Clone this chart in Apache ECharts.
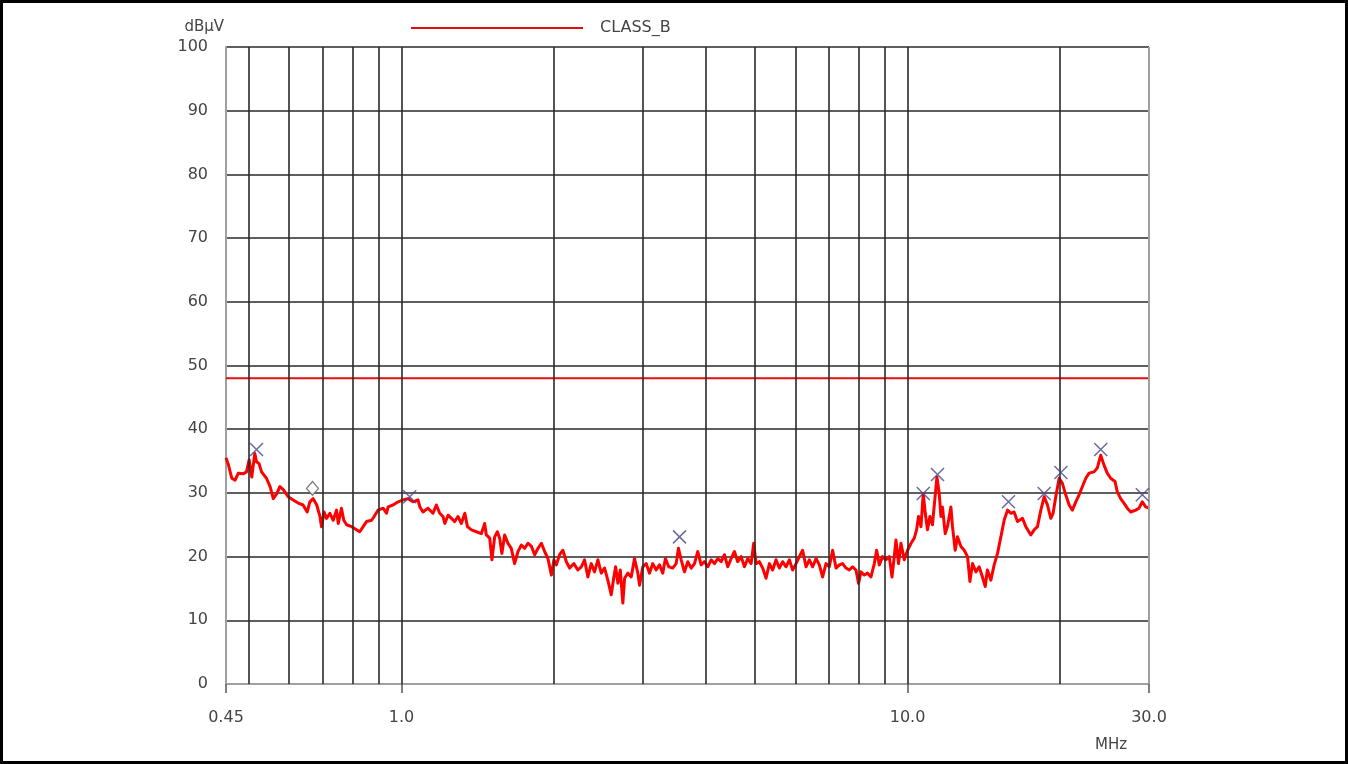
<!DOCTYPE html>
<html>
<head>
<meta charset="utf-8">
<style>
html,body{margin:0;padding:0;background:#fff;}
#c{width:1348px;height:764px;}
</style>
<script src="https://cdn.jsdelivr.net/npm/echarts@6/dist/echarts.min.js"></script>
</head>
<body>
<div id="c"></div>
<script>
// ---- data ----
const limitName = 'CLASS_B';
const limitFreq = [0.45, 30];
const limitLevel = [48, 48];

const traceFreq = [0.450,0.455,0.462,0.469,0.476,0.487,0.494,0.500,0.506,0.513,0.517,0.523,0.529,0.541,0.550,0.558,0.567,0.575,0.584,0.597,0.611,0.625,0.639,0.651,0.659,0.669,0.680,0.690,0.695,0.703,0.711,0.722,0.733,0.744,0.750,0.761,0.769,0.779,0.797,0.815,0.827,0.840,0.853,0.873,0.886,0.899,0.920,0.934,0.941,0.962,0.985,1.007,1.030,1.054,1.078,1.087,1.103,1.128,1.154,1.172,1.190,1.208,1.218,1.236,1.255,1.274,1.293,1.313,1.334,1.350,1.375,1.406,1.438,1.460,1.471,1.494,1.509,1.528,1.547,1.563,1.579,1.599,1.623,1.648,1.673,1.699,1.725,1.752,1.778,1.806,1.833,1.861,1.890,1.918,1.947,1.978,2.001,2.023,2.053,2.084,2.117,2.149,2.191,2.231,2.266,2.300,2.335,2.371,2.407,2.444,2.482,2.519,2.557,2.597,2.628,2.649,2.677,2.706,2.738,2.760,2.802,2.844,2.887,2.931,2.954,2.998,3.045,3.091,3.137,3.186,3.234,3.283,3.323,3.373,3.435,3.489,3.526,3.570,3.624,3.679,3.736,3.793,3.850,3.910,3.969,4.029,4.092,4.154,4.217,4.283,4.347,4.413,4.482,4.549,4.618,4.690,4.761,4.833,4.908,4.966,5.020,5.096,5.173,5.253,5.333,5.413,5.497,5.580,5.664,5.753,5.840,5.929,6.021,6.111,6.204,6.300,6.397,6.494,6.595,6.694,6.795,6.900,7.004,7.111,7.222,7.331,7.442,7.557,7.671,7.787,7.908,8.002,8.091,8.213,8.337,8.467,8.596,8.687,8.794,8.926,9.066,9.203,9.316,9.413,9.486,9.598,9.705,9.851,10.00,10.16,10.31,10.42,10.51,10.63,10.74,10.84,10.95,11.07,11.20,11.32,11.43,11.55,11.64,11.72,11.87,11.99,12.18,12.27,12.42,12.55,12.75,12.94,13.14,13.28,13.44,13.65,13.85,14.06,14.24,14.38,14.61,14.83,15.06,15.29,15.52,15.76,16.00,16.24,16.49,16.87,17.13,17.52,17.79,18.06,18.34,18.62,18.90,19.19,19.39,19.63,19.93,20.23,20.54,20.86,21.17,21.50,21.83,22.16,22.50,22.84,23.36,23.71,24.08,24.44,24.81,25.20,25.70,25.96,26.37,26.77,27.18,27.61,28.24,28.66,29.10,29.55,30.00];
const traceLevel = [35.5,34.4,32.3,32.0,33.1,33.0,33.3,35.2,32.5,36.2,34.9,34.6,33.3,32.3,31.0,29.1,29.9,31.0,30.5,29.4,28.9,28.4,28.1,27.0,28.6,29.1,28.1,26.3,24.7,27.0,26.0,26.8,25.7,27.3,25.2,27.6,25.7,25.0,24.7,24.2,23.9,24.7,25.5,25.7,26.5,27.3,27.6,26.8,27.8,28.1,28.6,28.9,29.1,28.6,28.9,27.8,27.0,27.6,26.8,28.1,26.8,26.3,25.2,26.5,26.0,25.5,26.3,25.2,26.8,24.7,24.2,23.9,23.6,25.2,23.4,22.9,19.5,23.1,23.9,22.9,20.5,23.4,22.1,21.3,18.9,20.8,21.8,21.3,22.1,21.6,20.3,21.3,22.1,20.8,19.7,17.1,19.5,18.7,20.3,21.0,19.2,18.2,18.9,17.9,18.4,19.5,16.8,18.9,17.6,19.5,17.4,18.2,16.3,14.0,16.8,18.4,15.8,17.9,12.7,16.6,17.4,16.8,19.7,17.4,15.5,18.4,18.9,17.4,18.9,17.9,18.7,17.4,19.7,18.4,18.2,18.9,21.3,19.5,17.6,19.2,18.2,18.9,20.8,18.7,19.2,18.4,19.5,18.9,19.7,19.2,20.3,18.4,19.7,20.8,19.2,20.0,18.4,19.7,18.9,22.1,18.9,19.2,18.2,16.6,18.9,17.9,19.5,18.2,19.2,18.4,19.5,17.9,18.9,20.0,21.0,18.4,19.5,18.4,19.7,18.7,16.8,18.9,18.4,21.0,18.2,18.7,18.9,18.2,17.9,18.4,17.9,15.8,17.6,17.1,17.4,16.8,18.9,21.0,18.7,20.0,19.5,20.0,16.8,20.0,22.6,18.9,22.1,19.5,21.0,22.1,22.9,24.2,26.3,24.7,29.9,26.8,24.2,26.3,25.0,28.9,32.5,29.9,26.3,27.8,23.6,24.7,27.8,24.7,21.0,23.1,21.6,21.0,20.0,16.1,18.9,17.6,18.4,16.8,15.3,17.9,16.3,18.7,20.5,23.1,25.7,27.3,26.8,27.0,25.5,26.0,24.7,23.4,24.2,24.7,27.3,29.4,28.1,26.0,26.8,29.4,32.3,31.5,29.7,28.1,27.3,28.6,29.7,31.0,32.3,33.1,33.3,33.9,35.9,34.4,33.1,32.3,31.8,30.2,29.1,28.4,27.6,27.0,27.3,27.6,28.6,27.8,27.6];

const peakFreq = [0.517, 1.038, 3.543, 10.74, 11.46, 15.83, 18.62, 20.09, 24.08, 29.1];
const peakLevel = [36.8, 29.4, 23.1, 29.9, 32.9, 28.6, 29.9, 33.2, 36.8, 29.7];
const quasiFreq = [0.667];
const quasiLevel = [30.7];

const gridFreqs = [0.5,0.6,0.7,0.8,0.9,1,2,3,4,5,6,7,8,9,10,20];
const xLabelValues = [0.45, 1, 10, 30];
const xLabelTexts = ['0.45', '1.0', '10.0', '30.0'];
const yUnit = 'dBμV';
const xUnit = 'MHz';

// ---- chart ----
const pairs = (xs, ys) => xs.map((x, i) => [x, ys[i]]);
const font = 'DejaVu Sans';
const chart = echarts.init(document.getElementById('c'), null, {renderer: 'canvas'});

const gridMark = gridFreqs.map(f => ({xAxis: f}));
gridMark.push({xAxis: 30, lineStyle: {color: '#a0a0a0', width: 2, type: 'solid'}});

chart.setOption({
  animation: false,
  backgroundColor: '#fff',
  graphic: [{
    type: 'rect', silent: true, z: 100,
    shape: {x: 1.5, y: 1.5, width: 1345, height: 761},
    style: {fill: 'none', stroke: '#000', lineWidth: 3}
  }],
  legend: {
    data: [limitName],
    left: 406, top: 15,
    icon: 'rect',
    itemWidth: 172, itemHeight: 2,
    textStyle: {fontFamily: font, fontSize: 16, color: '#444', padding: [0, 0, 0, 12]}
  },
  grid: {left: 226, right: 199, top: 47, bottom: 80, containLabel: false},
  xAxis: {
    type: 'log', logBase: 10, min: 0.45, max: 30,
    name: xUnit, nameLocation: 'end', nameGap: -54,
    nameTextStyle: {fontFamily: font, fontSize: 15, color: '#444', verticalAlign: 'top', align: 'left', padding: [54, 0, 0, 0]},
    axisLine: {show: true, lineStyle: {color: '#a0a0a0', width: 2}},
    axisTick: {show: true, customValues: xLabelValues, length: 9, lineStyle: {color: '#555', width: 1.5}},
    axisLabel: {
      customValues: xLabelValues, margin: 26,
      fontFamily: font, fontSize: 16, color: '#444',
      formatter: v => {
        let best = 0;
        xLabelValues.forEach((t, i) => { if (Math.abs(Math.log(t) - Math.log(v)) < Math.abs(Math.log(xLabelValues[best]) - Math.log(v))) best = i; });
        return xLabelTexts[best];
      }
    },
    splitLine: {show: false},
    minorTick: {show: false}, minorSplitLine: {show: false}
  },
  yAxis: {
    type: 'value', min: 0, max: 100, interval: 10,
    name: yUnit, nameLocation: 'end', nameGap: 12,
    nameTextStyle: {fontFamily: font, fontSize: 15, color: '#444', align: 'right', padding: [0, 2, 0, 0]},
    axisLine: {show: true, lineStyle: {color: '#a0a0a0', width: 2}},
    axisTick: {show: false},
    axisLabel: {margin: 18, fontFamily: font, fontSize: 16, color: '#444'},
    splitLine: {show: true, lineStyle: {color: '#2a2a2a', width: 1.6}}
  },
  series: [
    {
      name: '_grid', type: 'line', data: [], z: 1, silent: true,
      markLine: {
        silent: true, symbol: ['none', 'none'], label: {show: false},
        lineStyle: {color: '#2a2a2a', width: 1.6, type: 'solid'},
        data: gridMark, animation: false
      }
    },
    {
      name: limitName, type: 'line', data: pairs(limitFreq, limitLevel),
      symbol: 'none', z: 3,
      lineStyle: {color: '#e01010', width: 2},
      itemStyle: {color: '#e01010'}
    },
    {
      name: 'trace', type: 'line', data: pairs(traceFreq, traceLevel),
      symbol: 'none', z: 4, clip: true,
      lineStyle: {color: '#ff0000', width: 3, join: 'round'}
    },
    {
      name: 'peaks', type: 'scatter', data: pairs(peakFreq, peakLevel), z: 5,
      symbol: 'path://M0 0L10 10M10 0L0 10', symbolSize: 13,
      itemStyle: {color: 'rgba(0,0,0,0)', borderColor: '#45458a', borderWidth: 1.5}
    },
    {
      name: 'quasi', type: 'scatter', data: pairs(quasiFreq, quasiLevel), z: 5,
      symbol: 'diamond', symbolSize: [12, 14],
      itemStyle: {color: '#fff', borderColor: '#555', borderWidth: 1.2}
    }
  ]
});
</script>
</body>
</html>
